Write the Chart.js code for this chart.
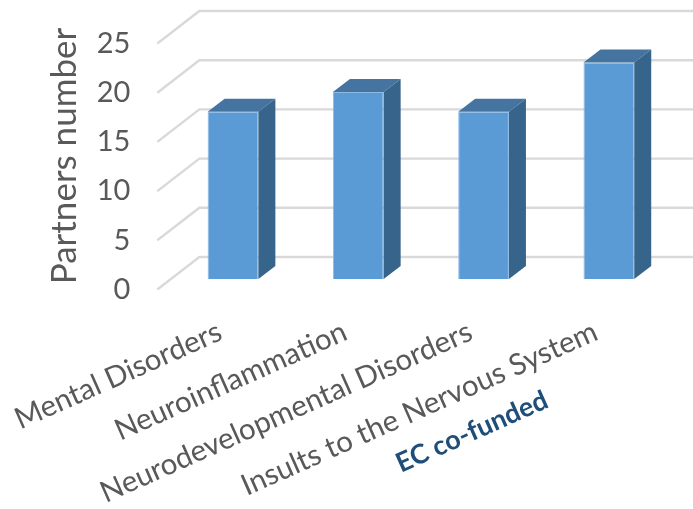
<!DOCTYPE html>
<html><head><meta charset="utf-8">
<script src="https://cdn.jsdelivr.net/npm/chart.js@4"></script>
<style>html,body{margin:0;padding:0;background:#fff}canvas{display:block}</style>
</head><body><canvas id="c" width="693" height="509"></canvas>
<script>
const categories = ["Mental Disorders","Neuroinflammation","Neurodevelopmental Disorders","Insults to the Nervous System"];
const partners = [17,19,17,22];
const yTicks = [0,5,10,15,20,25];
const yTitle = "Partners number";
const note = "EC co-funded";

const depth = {dx:17, dy:-13};
const wall = {frontDx:-13, frontDy:10.5, backDx:29, backDy:-22, right:693};

const box3d = {
  id:'box3d',
  beforeDatasetsDraw(chart){
    const {ctx, chartArea:a, scales:{y}} = chart;
    ctx.save();
    ctx.strokeStyle='#D9D9D9'; ctx.lineWidth=2.4;
    yTicks.forEach(v=>{
      const p=y.getPixelForValue(v);
      ctx.beginPath();
      ctx.moveTo(a.left+wall.frontDx,p+wall.frontDy);
      ctx.lineTo(a.left+wall.backDx,p+wall.backDy);
      ctx.lineTo(wall.right,p+wall.backDy);
      ctx.stroke();
    });
    ctx.restore();
  },
  afterDatasetsDraw(chart){
    const {ctx} = chart;
    ctx.save();
    chart.getDatasetMeta(0).data.forEach(b=>{
      const l=b.x-b.width/2, r=b.x+b.width/2, t=b.y, bt=b.base;
      ctx.fillStyle='#44749F';
      ctx.beginPath();ctx.moveTo(l,t);ctx.lineTo(l+depth.dx,t+depth.dy);ctx.lineTo(r+depth.dx,t+depth.dy);ctx.lineTo(r,t);ctx.closePath();ctx.fill();
      ctx.fillStyle='#37648B';
      ctx.beginPath();ctx.moveTo(r,t);ctx.lineTo(r+depth.dx,t+depth.dy);ctx.lineTo(r+depth.dx,bt+depth.dy);ctx.lineTo(r,bt);ctx.closePath();ctx.fill();
    });
    ctx.restore();
  },
  afterDraw(chart){
    const {ctx}=chart;
    ctx.save();
    ctx.translate(401,473);
    ctx.rotate(-24*Math.PI/180);
    ctx.fillStyle='#1F4E79';
    ctx.font='bold 27px Lato';
    ctx.textAlign='left';ctx.textBaseline='alphabetic';
    ctx.fillText(note,0,0);
    ctx.restore();
  }
};

new Chart(document.getElementById('c'),{
  type:'bar',
  plugins:[box3d],
  data:{labels:categories,datasets:[{data:partners,backgroundColor:'#5B9BD5',borderColor:'#8DBBE5',borderWidth:1,categoryPercentage:1,barPercentage:0.405}]},
  options:{
    responsive:false,animation:false,
    layout:{padding:{top:33,right:21.5,left:0,bottom:0}},
    plugins:{legend:{display:false},tooltip:{enabled:false}},
    scales:{
      x:{
        grid:{display:false,drawTicks:false},border:{display:false},
        afterFit(s){s.height=230;s.paddingLeft=0;s.paddingRight=0;},
        ticks:{autoSkip:false,minRotation:24,maxRotation:24,padding:35,labelOffset:-13,color:'#595959',font:{family:'Lato',size:29.5}}
      },
      y:{
        min:0,max:25,
        grid:{display:false,drawTicks:false},border:{display:false},
        afterFit(s){s.width=170.35;s.paddingTop=0;s.paddingBottom=0;},
        afterBuildTicks(s){s.ticks=yTicks.map(v=>({value:v}));},
        title:{display:true,text:yTitle,color:'#595959',font:{family:'Lato',size:35},padding:{top:44,bottom:0}},
        ticks:{padding:40,labelOffset:10.5,color:'#595959',font:{family:'Lato',size:29}}
      }
    }
  }
});
</script>
</body></html>
